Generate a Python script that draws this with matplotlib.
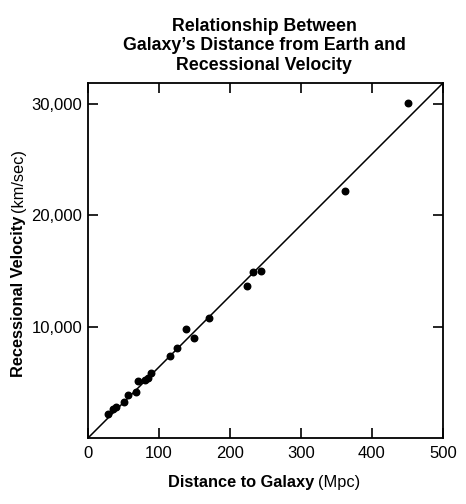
import matplotlib
matplotlib.use("Agg")
import matplotlib.pyplot as plt
from matplotlib.ticker import FuncFormatter

plt.rcParams['font.family'] = ['Liberation Sans', 'DejaVu Sans']

# distance (Mpc) and recessional velocity (km/sec)
distance = [27.7, 35.7, 39, 50.2, 56.3, 67.6, 70, 79.8, 84, 89.2, 115.5, 125.8,
            138, 148.8, 170.4, 224.4, 232.9, 243.7, 361.5, 451]
velocity = [2150, 2630, 2780, 3230, 3880, 4100, 5080, 5200, 5350, 5860, 7350, 8040,
            9750, 9000, 10730, 13660, 14860, 14950, 22130, 30020]

line_x = [0, 500]
line_y = [0, 31850]

x_ticks = [0, 100, 200, 300, 400, 500]
y_ticks = [10000, 20000, 30000]

fig = plt.figure(figsize=(4.66, 5.04), dpi=100)
ax = fig.add_axes([88/466, 66/504, 355/466, 355/504])

ax.plot(line_x, line_y, color='black', lw=1.1)
ax.scatter(distance, velocity, s=22, color='black', zorder=3)

ax.set_xlim(0, 500)
ax.set_ylim(0, 31850)
ax.set_xticks(x_ticks)
ax.set_yticks(y_ticks)
ax.yaxis.set_major_formatter(FuncFormatter(lambda v, p: '{:,.0f}'.format(v)))
ax.tick_params(direction='in', length=7, width=1.2, labelsize=12,
               top=True, right=True)
ax.tick_params(axis='x', pad=6)
ax.tick_params(axis='y', pad=4)
for s in ax.spines.values():
    s.set_linewidth(1.3)

fig.text(0.567, 1 - 46/504, "Relationship Between\nGalaxy\u2019s Distance from Earth and\nRecessional Velocity",
         ha='center', va='center', fontsize=12.8, fontweight='bold', linespacing=1.2)

# axis labels: bold part + regular part
fig.canvas.draw()
r = fig.canvas.get_renderer()

xb = fig.text(0, 1 - 482/504, "Distance to Galaxy ", fontsize=11.8, fontweight='bold', va='center')
xr = fig.text(0, 1 - 482/504, "(Mpc)", fontsize=11.8, va='center')
wb = xb.get_window_extent(r).width / (466)
wr = xr.get_window_extent(r).width / (466)
x0 = 264/466 - (wb + wr) / 2
xb.set_x(x0)
xr.set_x(x0 + wb)

yb = fig.text(18.5/466, 0, "Recessional Velocity ", fontsize=11.8, fontweight='bold',
              rotation=90, ha='center', va='bottom')
yr = fig.text(18.5/466, 0, "(km/sec)", fontsize=11.8, rotation=90, ha='center', va='bottom')
hb = yb.get_window_extent(r).height / 504
hr = yr.get_window_extent(r).height / 504
y0 = 1 - 263/504 - (hb + hr) / 2
yb.set_y(y0)
yr.set_y(y0 + hb)

fig.savefig("out.png", dpi=100)
